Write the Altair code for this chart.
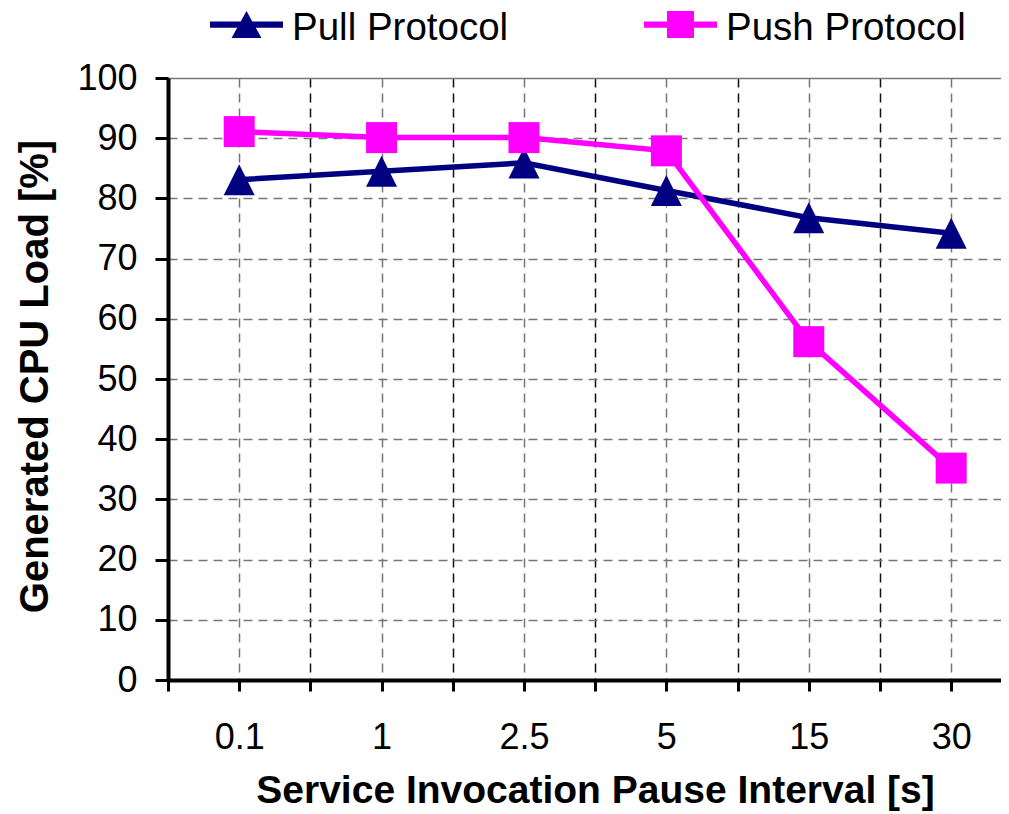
import json
import altair as alt
import pandas as pd

categories = ["0.1", "1", "2.5", "5", "15", "30"]
pull_values = [83.1, 84.5, 85.9, 81.3, 76.8, 74.2]
push_values = [91.1, 90.1, 90.1, 87.9, 56.2, 35.2]
series_names = ["Pull Protocol", "Push Protocol"]
series_colors = ["#000080", "#FF00FF"]
y_ticks = list(range(0, 101, 10))
x_ticks = [i * 0.5 - 0.5 for i in range(12)]

rows = []
for name, vals in zip(series_names, [pull_values, push_values]):
    for i, (c, v) in enumerate(zip(categories, vals)):
        rows.append({"idx": i, "cat": c, "series": name, "value": v})
df = pd.DataFrame(rows)

FONT = "Liberation Sans"
label_expr = ("datum.value == round(datum.value) ? (" + json.dumps(categories)
              + ")[datum.value] : ''")

x_enc = alt.X(
    "idx:Q",
    scale=alt.Scale(domain=[-0.5, 5.35], nice=False, zero=False),
    axis=alt.Axis(
        values=x_ticks, labelExpr=label_expr, labelOverlap=False, labelFlush=False,
        grid=True,
        gridColor={"condition": {"test": "datum.value != round(datum.value)", "value": "#111111"},
                   "value": "#777777"},
        gridDash=[9, 6], gridWidth=1.5,
        domainColor="black", domainWidth=4,
        tickColor="black", tickWidth=3, tickSize=11,
        labelFont=FONT, labelFontSize=36, labelColor="black", labelPadding=29,
        title="Service Invocation Pause Interval [s]",
        titleFont=FONT, titleFontSize=39, titleFontWeight="bold", titleColor="black",
        titleX=427, titleY=122, titleBaseline="alphabetic", titleAlign="center",
    ),
)
y_enc = alt.Y(
    "value:Q",
    scale=alt.Scale(domain=[0, 100], nice=False, zero=True),
    axis=alt.Axis(
        values=y_ticks, grid=True,
        gridColor="#777777",
        gridDash={"condition": {"test": "datum.value == 100", "value": []}, "value": [9, 6]},
        gridWidth=1.5,
        domainColor="black", domainWidth=4,
        tickColor="black", tickWidth=3, tickSize=13,
        labelFont=FONT, labelFontSize=36, labelColor="black", labelPadding=18,
        title="Generated CPU Load [%]",
        titleFont=FONT, titleFontSize=40, titleFontWeight="bold", titleColor="black",
        titleX=-121, titleY=298, titleBaseline="alphabetic", titleAlign="center",
        titleAngle=270,
    ),
)

tri_path = "M0,-1 L1,1 L-1,1 Z"
point_shapes = [tri_path, "square"]

layers = []
for name, col, shp in zip(series_names, series_colors, point_shapes):
    sub = alt.Chart(df).transform_filter(alt.datum.series == name)
    layers.append(sub.mark_line(color=col, strokeWidth=5.5).encode(x=x_enc, y=y_enc))
    layers.append(sub.mark_point(filled=True, color=col, opacity=1, size=961,
                                 shape=shp, strokeWidth=0).encode(x=x_enc, y=y_enc))

# legend symbols: line segment with marker
dy = -0.08
lh = 0.085
tri_legend = (f"M-1,{-lh+dy} L1,{-lh+dy} L1,{lh+dy} L-1,{lh+dy} Z "
              f"M0,{-0.37+dy} L0.41,{0.37+dy} L-0.41,{0.37+dy} Z")
sq_legend = (f"M-1,{-lh+dy} L1,{-lh+dy} L1,{lh+dy} L-1,{lh+dy} Z "
             f"M-0.37,{-0.37+dy} L0.37,{-0.37+dy} L0.37,{0.37+dy} L-0.37,{0.37+dy} Z")

legend = alt.Legend(
    orient="none", legendX=42, legendY=-87, direction="horizontal", title=None,
    labelFont=FONT, labelFontSize=38.5, labelColor="black", labelLimit=0,
    symbolSize=5329, symbolStrokeWidth=0, symbolOpacity=1,
    labelOffset=9, columnPadding=135, padding=0,
)
legend_layer = alt.Chart(df).mark_point(filled=True, opacity=0).encode(
    x=x_enc, y=y_enc,
    color=alt.Color("series:N", scale=alt.Scale(domain=series_names, range=series_colors),
                    legend=legend),
    shape=alt.Shape("series:N", scale=alt.Scale(domain=series_names, range=[tri_legend, sq_legend]),
                    legend=legend),
)
layers.append(legend_layer)

chart = alt.layer(*layers).properties(
    width=833, height=602,
    autosize=alt.AutoSizeParams(type="none"),
    padding={"left": 160, "top": 70, "right": 0, "bottom": 131},
    background="white",
).configure_view(stroke=None)

chart.save("out.html", embed_options={"renderer": "svg", "actions": False})
